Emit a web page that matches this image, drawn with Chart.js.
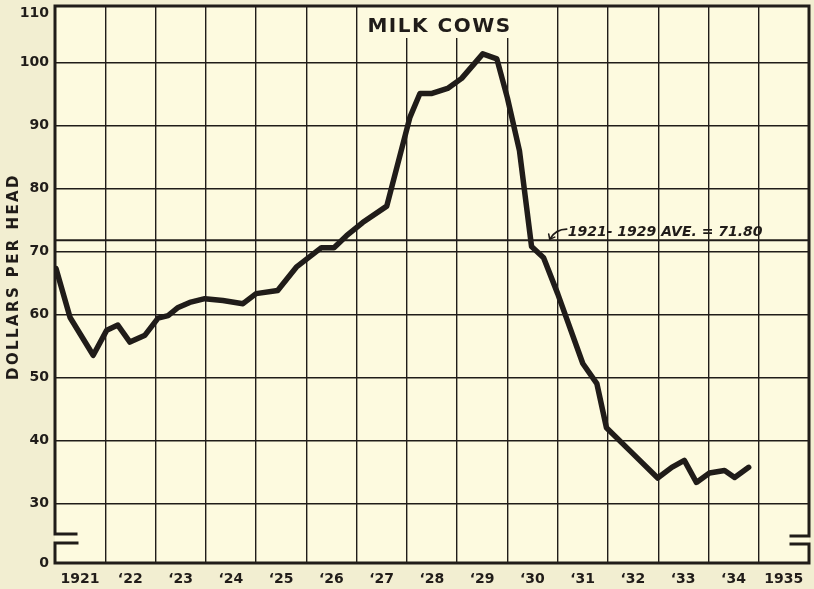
<!DOCTYPE html>
<html>
<head>
<meta charset="utf-8">
<script src="https://cdn.jsdelivr.net/npm/chart.js@4.4.1/dist/chart.umd.min.js"></script>
<style>
  html, body { margin: 0; padding: 0; background: #f2eed1; }
  #wrap { position: relative; width: 814px; height: 589px; }
</style>
</head>
<body>
<div id="wrap"><canvas id="chart"></canvas></div>
<script>
// Milk cow prices, dollars per head
const dates = [
  1921.02, 1921.30, 1921.76, 1922.03, 1922.25, 1922.49, 1922.79,
  1923.05, 1923.25, 1923.45, 1923.68, 1923.98, 1924.34, 1924.74,
  1925.00, 1925.43, 1925.80, 1926.30, 1926.55, 1926.80, 1927.12,
  1927.60, 1928.06, 1928.26, 1928.50, 1928.81, 1929.09, 1929.51,
  1929.79, 1930.00, 1930.24, 1930.48, 1930.72, 1931.00, 1931.50,
  1931.78, 1931.97, 1932.43, 1932.99, 1933.27, 1933.52, 1933.76,
  1934.02, 1934.32, 1934.52, 1934.80
];
const prices = [
  67.3, 59.5, 53.5, 57.5, 58.3, 55.6, 56.7,
  59.4, 59.8, 61.1, 61.9, 62.5, 62.2, 61.7,
  63.3, 63.8, 67.5, 70.6, 70.6, 72.5, 74.6,
  77.2, 91.3, 95.1, 95.1, 95.9, 97.5, 101.4,
  100.6, 94.4, 86.0, 70.8, 69.0, 63.3, 52.2,
  49.0, 42.0, 38.4, 34.0, 35.7, 36.8, 33.3,
  34.8, 35.2, 34.1, 35.7
];

const avgValue = 71.80;
const avgLabel = '1921- 1929 AVE. = 71.80';
const title = 'MILK COWS';
const yTitle = 'DOLLARS PER HEAD';

const yearTicks = [1921, 1922, 1923, 1924, 1925, 1926, 1927, 1928,
                   1929, 1930, 1931, 1932, 1933, 1934, 1935, 1936];
const yTicks = [30, 40, 50, 60, 70, 80, 90, 100];
// the axis is broken below 30: the bottom edge reads "0"
const yBottom = 20.5;
const yTop = 109;
const yTopLabelAt = 107.8;

const INK = '#201c19';
const PAPER = '#fdfadf';

function yearLabel(v) {
  if (v === 1921 || v === 1935) return String(v);
  if (v === 1936) return '';
  return '\u2018' + String(v).slice(2);
}

const decor = {
  id: 'decor',
  beforeDraw(chart) {
    const { ctx, chartArea: a } = chart;
    ctx.save();
    ctx.fillStyle = PAPER;
    ctx.fillRect(a.left, a.top, a.right - a.left, a.bottom - a.top);
    ctx.restore();
  },
  beforeDatasetsDraw(chart) {
    const { ctx, chartArea: a, scales } = chart;
    // title sits in a clear box over the grid
    const cx = scales.x.getPixelForValue(1928.65);
    ctx.save();
    ctx.fillStyle = PAPER;
    ctx.fillRect(cx - 78, a.top, 156, 32);
    ctx.fillStyle = INK;
    ctx.font = 'bold 20px "DejaVu Sans"';
    ctx.letterSpacing = '1.5px';
    ctx.textAlign = 'center';
    ctx.textBaseline = 'alphabetic';
    ctx.fillText(title, cx, a.top + 26);
    ctx.restore();
  },
  afterDraw(chart) {
    const { ctx, chartArea: a, scales } = chart;
    const brk1 = a.bottom - 29, brk2 = a.bottom - 20;
    ctx.save();
    ctx.strokeStyle = INK;
    ctx.lineCap = 'square';
    // frame with broken-axis marks
    ctx.lineWidth = 3;
    ctx.beginPath();
    ctx.moveTo(a.left + 21, brk1);
    ctx.lineTo(a.left, brk1);
    ctx.lineTo(a.left, a.top);
    ctx.lineTo(a.right, a.top);
    ctx.lineTo(a.right, brk1 + 2);
    ctx.lineTo(a.right - 18, brk1 + 2);
    ctx.stroke();
    ctx.beginPath();
    ctx.moveTo(a.left + 22, brk2);
    ctx.lineTo(a.left, brk2);
    ctx.lineTo(a.left, a.bottom);
    ctx.lineTo(a.right, a.bottom);
    ctx.lineTo(a.right, brk2 + 1);
    ctx.lineTo(a.right - 18, brk2 + 1);
    ctx.stroke();

    // y axis title
    ctx.fillStyle = INK;
    ctx.save();
    ctx.translate(14, (a.top + a.bottom) / 2 - 8);
    ctx.rotate(-Math.PI / 2);
    ctx.font = 'bold 15px "DejaVu Sans"';
    ctx.letterSpacing = '2.4px';
    ctx.textAlign = 'center';
    ctx.textBaseline = 'middle';
    ctx.fillText(yTitle, 0, 0);
    ctx.restore();

    // average label with arrow
    const ay = scales.y.getPixelForValue(avgValue);
    const lx = scales.x.getPixelForValue(1931.2);
    ctx.font = 'italic bold 14px "DejaVu Sans"';
    ctx.letterSpacing = '0px';
    ctx.textAlign = 'left';
    ctx.textBaseline = 'alphabetic';
    ctx.fillText(avgLabel, lx, ay - 4);
    ctx.lineWidth = 1.6;
    ctx.lineCap = 'round';
    ctx.beginPath();
    ctx.moveTo(lx - 1, ay - 11);
    ctx.quadraticCurveTo(lx - 12, ay - 11, lx - 18, ay - 1);
    ctx.stroke();
    ctx.beginPath();
    ctx.moveTo(lx - 19, ay - 6);
    ctx.lineTo(lx - 18, ay - 1);
    ctx.lineTo(lx - 13, ay - 3);
    ctx.stroke();
    ctx.restore();
  }
};

new Chart(document.getElementById('chart'), {
  type: 'line',
  data: {
    datasets: [
      {
        label: 'Milk cows',
        data: dates.map((d, i) => ({ x: d, y: prices[i] })),
        borderColor: INK,
        borderWidth: 5.5,
        borderJoinStyle: 'round',
        borderCapStyle: 'round',
        pointRadius: 0,
        tension: 0
      },
      {
        label: 'Average',
        data: [{ x: yearTicks[0], y: avgValue }, { x: yearTicks[yearTicks.length - 1], y: avgValue }],
        borderColor: INK,
        borderWidth: 2,
        pointRadius: 0
      }
    ]
  },
  options: {
    responsive: true,
    maintainAspectRatio: false,
    animation: false,
    layout: { padding: { top: 6, right: 5, left: 0, bottom: 0 } },
    plugins: {
      legend: { display: false },
      tooltip: { enabled: false }
    },
    scales: {
      x: {
        type: 'linear',
        min: yearTicks[0],
        max: yearTicks[yearTicks.length - 1],
        afterBuildTicks: (scale) => {
          scale.ticks = yearTicks.map(v => ({ value: v }));
        },
        afterFit: (scale) => {
          scale.height = 26;
          scale.paddingLeft = 0;
          scale.paddingRight = 0;
        },
        border: { display: false },
        grid: {
          drawTicks: false,
          lineWidth: 1.4,
          color: (c) => (c.tick && (c.tick.value === 1921 || c.tick.value === 1936)) ? 'rgba(0,0,0,0)' : INK
        },
        ticks: {
          autoSkip: false,
          maxRotation: 0,
          padding: 8,
          labelOffset: 25,
          color: INK,
          font: { family: 'DejaVu Sans', weight: 'bold', size: 14 },
          callback: (v) => yearLabel(v)
        }
      },
      y: {
        type: 'linear',
        min: yBottom,
        max: yTop,
        afterBuildTicks: (scale) => {
          scale.ticks = [yBottom, ...yTicks, yTopLabelAt].map(v => ({ value: v }));
        },
        afterFit: (scale) => {
          scale.width = 55;
          scale.paddingTop = 0;
          scale.paddingBottom = 0;
        },
        border: { display: false },
        grid: {
          drawTicks: false,
          lineWidth: 1.4,
          color: (c) => (c.tick && (c.tick.value === yBottom || c.tick.value === yTopLabelAt)) ? 'rgba(0,0,0,0)' : INK
        },
        ticks: {
          padding: 6,
          color: INK,
          font: { family: 'DejaVu Sans', weight: 'bold', size: 14 },
          callback: (v) => v === yBottom ? '0' : (v === yTopLabelAt ? '110' : String(v))
        }
      }
    }
  },
  plugins: [decor]
});
</script>
</body>
</html>
